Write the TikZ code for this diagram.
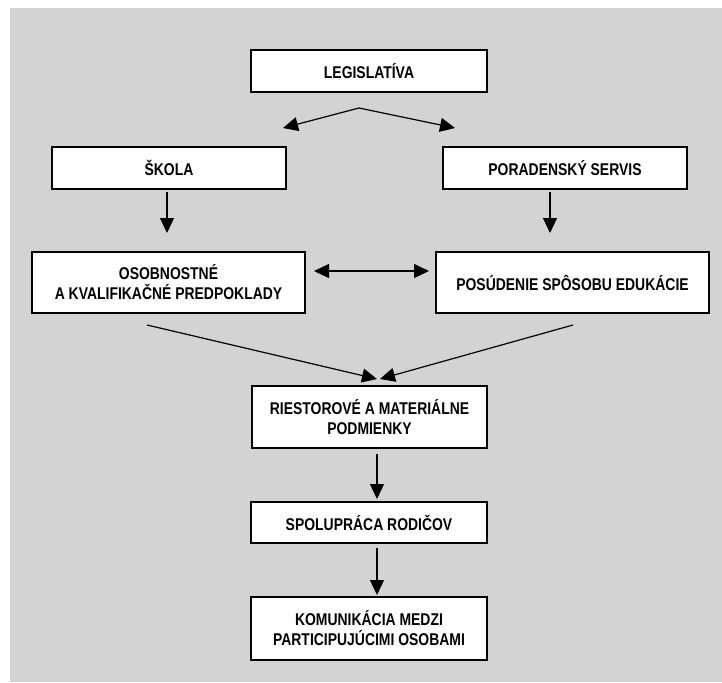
\documentclass[tikz,border=0pt]{standalone}
\usepackage{fontspec}
\setmainfont{Liberation Sans}[FakeStretch=0.82]
\usetikzlibrary{arrows.meta}
\definecolor{bggray}{RGB}{211,211,211}
\begin{document}
\begin{tikzpicture}[x=1pt,y=-1pt,
  box/.style={draw=black, line width=1.6pt, fill=white, inner sep=0pt, align=center,
    font=\fontsize{17}{20}\selectfont\bfseries},
  arr/.style={draw=black, line width=1.2pt, -{Triangle[length=15pt,width=14pt]}},
  darr/.style={draw=black, line width=1.2pt, {Triangle[length=15pt,width=14pt]}-{Triangle[length=15pt,width=14pt]}},
  ln/.style={draw=black, line width=1.2pt}]
\useasboundingbox (0,0) rectangle (722,682);
\fill[bggray] (10,8) rectangle (722,682);

\node[box, minimum width=236pt, minimum height=42pt] (leg) at (369,71) {LEGISLATÍVA};
\node[box, minimum width=234pt, minimum height=42pt] (skola) at (169,168) {ŠKOLA};
\node[box, minimum width=244pt, minimum height=42pt] (porad) at (565,168) {PORADENSKÝ SERVIS};
\node[box, minimum width=273pt, minimum height=61pt] (osob) at (168.5,282.5) {OSOBNOSTNÉ\\A KVALIFIKAČNÉ PREDPOKLADY};
\node[box, minimum width=273pt, minimum height=61pt] (posud) at (572.5,282.5) {POSÚDENIE SPÔSOBU EDUKÁCIE};
\node[box, minimum width=235pt, minimum height=62pt] (ries) at (369.5,417) {RIESTOROVÉ A MATERIÁLNE\\PODMIENKY};
\node[box, minimum width=236pt, minimum height=41pt] (spol) at (369,522.5) {SPOLUPRÁCA RODIČOV};
\node[box, minimum width=236pt, minimum height=63pt] (kom) at (369,628.5) {KOMUNIKÁCIA MEDZI\\PARTICIPUJÚCIMI OSOBAMI};

% fork from legislation
\coordinate (fork) at (359,108);
\coordinate (forkL) at (283,128);
\coordinate (forkR) at (455,128);
\draw[arr] (fork) -- (forkL);
\draw[arr] (fork) -- (forkR);

% school / advisory down arrows
\coordinate (s1) at (167,192);
\coordinate (s2) at (167,233);
\coordinate (p1) at (550,192);
\coordinate (p2) at (550,233);
\draw[arr] (s1) -- (s2);
\draw[arr] (p1) -- (p2);

% double arrow
\coordinate (dL) at (314,271);
\coordinate (dR) at (429,271);
\draw[darr] (dL) -- (dR);

% converging lines
\coordinate (cL) at (147,325);
\coordinate (cR) at (573,325);
\coordinate (mL) at (377,379);
\coordinate (mR) at (380,379);
\draw[arr] (cL) -- (mL);
\draw[arr] (cR) -- (mR);

% lower chain
\coordinate (r1) at (377,454);
\coordinate (r2) at (377,499);
\coordinate (q1) at (377,548);
\coordinate (q2) at (377,595);
\draw[arr] (r1) -- (r2);
\draw[arr] (q1) -- (q2);
\end{tikzpicture}
\end{document}
